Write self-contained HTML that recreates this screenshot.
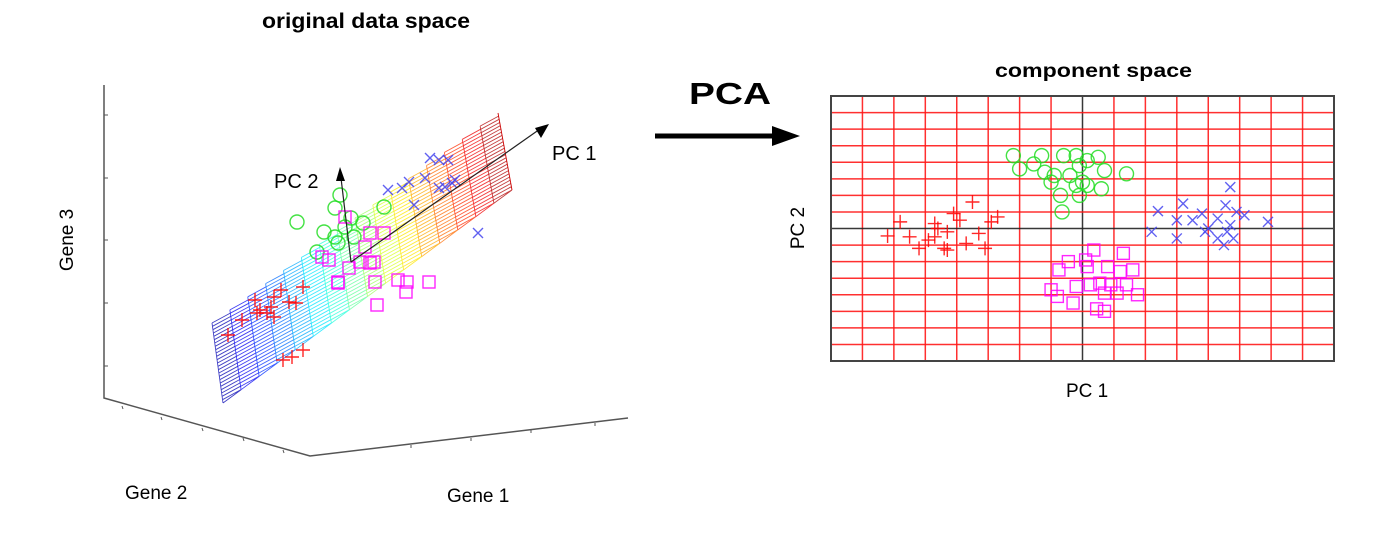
<!DOCTYPE html>
<html><head><meta charset="utf-8"><style>
html,body{margin:0;padding:0;background:#fff;}
svg{display:block;font-family:"Liberation Sans",Arial,sans-serif;}
</style></head><body>
<svg id="fig" width="1393" height="540" viewBox="0 0 1393 540">
<text x="262" y="28" font-size="21" font-weight="bold" textLength="208" lengthAdjust="spacingAndGlyphs">original data space</text>
<text x="689" y="104" font-size="31" font-weight="bold" textLength="82" lengthAdjust="spacingAndGlyphs">PCA</text>
<g>
<line x1="655" y1="136" x2="775" y2="136" stroke="#000" stroke-width="5"/>
<polygon points="772,126 800,136 772,146" fill="#000"/>
</g>
<text x="995" y="77" font-size="19" font-weight="bold" textLength="197" lengthAdjust="spacingAndGlyphs">component space</text>
<g id="left"></g>
<g id="right"></g>
<text x="552" y="160" font-size="20">PC 1</text>
<text x="274" y="188" font-size="20">PC 2</text>
<text transform="translate(73,240) rotate(-90)" text-anchor="middle" font-size="19">Gene 3</text>
<text x="125" y="499" font-size="19">Gene 2</text>
<text x="447" y="502" font-size="19">Gene 1</text>
<text transform="translate(804,228) rotate(-90)" text-anchor="middle" font-size="19">PC 2</text>
<text x="1066" y="397" font-size="19">PC 1</text>
</svg>
<script>
// ---- component space data (PC1, PC2 units) ----
const redPC1=[-6.2,-5.8,-5.5,-5.2,-4.7,-4.7,-4.4,-4.1,-4.3,-3.9,-3.7,-3.5,-3.3,-3.1,-2.9,-2.7,-4.3,-4.9,-4.6];
const redPC2=[-0.45,0.4,-0.5,-1.2,0.3,-0.5,-1.2,0.9,-0.2,0.5,-0.9,1.6,-0.3,-1.2,0.4,0.7,-1.3,-0.7,0.0];
const greenPC1=[-2.2,-2.0,-1.3,-1.2,-0.6,-0.2,-0.9,-0.4,-0.1,0.15,0.5,0.7,1.4,0.0,-0.7,-0.1,0.6,-0.65,-1.55,-1.0,-0.2,0.15];
const greenPC2=[4.4,3.6,4.4,3.4,4.4,4.4,3.2,3.2,3.8,4.1,4.3,3.5,3.3,2.8,2.0,2.0,2.4,1.0,3.9,2.8,2.6,2.6];
const magPC1=[0.36,1.3,-0.45,0.1,-0.75,0.8,1.2,1.6,-0.2,0.25,0.55,0.9,1.4,-1.0,-0.8,-0.3,0.7,1.1,1.75,0.45,0.7,0.15];
const magPC2=[-1.3,-1.5,-2.0,-1.9,-2.5,-2.3,-2.6,-2.5,-3.5,-3.4,-3.3,-3.4,-3.4,-3.7,-4.1,-4.5,-3.9,-3.9,-4.0,-4.85,-5.0,-2.3];
const bluePC1=[2.4,3.2,3.0,3.8,3.5,4.7,4.55,4.9,5.15,5.9,2.2,3.0,3.9,4.3,4.3,4.6,4.5,4.8,4.7,4.0];
const bluePC2=[1.05,1.5,0.5,0.9,0.5,2.5,1.4,1.0,0.8,0.4,-0.2,-0.6,-0.2,0.6,-0.6,-0.2,-1.0,-0.6,0.2,0.0];
const gridTicksX=[-8,-7,-6,-5,-4,-3,-2,-1,0,1,2,3,4,5,6,7,8];
const gridTicksY=[-8,-7,-6,-5,-4,-3,-2,-1,0,1,2,3,4,5,6,7,8];
// ---- original space data (projected onto PC1 / PC2 axis units) ----
const redU=[-12.3,-10.9,-9.6,-9.1,-8.4,-7.7,-7.7,-7.0,-6.2,-5.5,-4.8,-9.4,-8.0,-6.8,-5.9,-4.8];
const redV=[-7.3,-5.8,-3.8,-4.8,-5.1,-5.5,-3.5,-2.8,-4.0,-4.1,-2.5,-5.1,-4.5,-9.8,-9.5,-8.8];
const greenU=[-5.4,-1.1,-1.6,-2.7,-1.6,-3.4,-0.6,0.0,1.2,3.3,-1.3,0.3];
const greenV=[4.0,6.7,5.4,3.0,2.5,1.0,3.5,4.4,3.9,5.5,1.9,2.5];
const magU=[-0.6,1.9,3.3,-2.9,-2.2,1.4,1.9,0.9,2.3,-1.3,-1.3,2.4,4.7,5.5,5.6,7.8,2.6,-0.2];
const magV=[4.5,2.9,2.9,0.5,0.2,1.5,-0.1,0.0,0.0,-2.0,-2.1,-2.0,-1.8,-3.0,-2.0,-2.0,-4.3,-0.6];
const blueU=[7.9,8.8,9.7,3.7,5.1,5.8,7.4,9.4,10.1,10.4,6.3,12.7,8.8];
const blueV=[10.4,10.2,10.2,7.2,7.4,8.0,8.4,7.5,7.9,8.2,5.7,2.9,7.4];

const NS="http://www.w3.org/2000/svg";
function mk(tag,attrs,parent){const e=document.createElementNS(NS,tag);for(const k in attrs)e.setAttribute(k,attrs[k]);parent.appendChild(e);return e;}

// ===== right plot =====
const R=document.getElementById('right');
const L0=831,R0=1334,T0=96,B0=361;
const xs=v=>L0+(v+8)/16*(R0-L0);
const ys=v=>B0-(v+8)/16*(B0-T0);
gridTicksX.forEach(t=>{const l=mk('line',{x1:xs(t),x2:xs(t),y1:T0,y2:B0,stroke:t===0?'#222':'#ff1a1a','stroke-width':1.5,'stroke-opacity':0.9},R);

});
gridTicksY.forEach(t=>{const l=mk('line',{x1:L0,x2:R0,y1:ys(t),y2:ys(t),stroke:t===0?'#222':'#ff1a1a','stroke-width':1.5,'stroke-opacity':0.9},R);

});
const fr=mk('rect',{x:L0,y:T0,width:R0-L0,height:B0-T0,fill:'none',stroke:'#444','stroke-width':2},R);



function plus(g,x,y,s,c,w){mk('path',{d:`M${x-s},${y}H${x+s}M${x},${y-s}V${y+s}`,stroke:c,'stroke-width':w,fill:'none','stroke-opacity':0.85},g);}
function cross(g,x,y,s,c,w){mk('path',{d:`M${x-s},${y-s}L${x+s},${y+s}M${x-s},${y+s}L${x+s},${y-s}`,stroke:c,'stroke-width':w,fill:'none','stroke-opacity':0.85},g);}
function circ(g,x,y,r,c,w){mk('circle',{cx:x,cy:y,r:r,stroke:c,'stroke-width':w,fill:'none','stroke-opacity':0.85},g);}
function sq(g,x,y,s,c,w){mk('rect',{x:x-s,y:y-s,width:2*s,height:2*s,stroke:c,'stroke-width':w,fill:'none','stroke-opacity':0.85},g);}

function series(parent,name,X,Y,fx,fy,draw,size,col){const g=mk('g',{},parent);


X.forEach((v,i)=>draw(g,fx(v),fy(Y[i]),size,col,1.4));}
series(R,'red-cluster-points',redPC1,redPC2,xs,ys,plus,7,'#ff0000');
series(R,'green-cluster-points',greenPC1,greenPC2,xs,ys,circ,7,'#22dd22');
series(R,'magenta-cluster-points',magPC1,magPC2,xs,ys,sq,6,'#ff00ff');
series(R,'blue-cluster-points',bluePC1,bluePC2,xs,ys,cross,5,'#4444ee');

// ===== left 3D plot =====
const Lg=document.getElementById('left');
const ax=mk('path',{d:'M104,85V398L310,456L628,418',stroke:'#555','stroke-width':1.5,fill:'none'},Lg);


[115,178,240,303,366].forEach(y=>mk('line',{x1:104,x2:108,y1:y,y2:y,stroke:'#555'},Lg));
[[122,406],[161,417],[202,428],[243,438],[283,450]].forEach(p=>mk('line',{x1:p[0],x2:p[0]+1,y1:p[1],y2:p[1]+3,stroke:'#555'},Lg));
[[411,445],[471,438],[531,430],[595,423]].forEach(p=>mk('line',{x1:p[0],x2:p[0],y1:p[1],y2:p[1]+3,stroke:'#555'},Lg));
// plane mesh
const A=[212,323],B=[223,403],C=[498,113],D=[512,190];
function P(s,t){const top=[A[0]+s*(C[0]-A[0]),A[1]+s*(C[1]-A[1])],bot=[B[0]+s*(D[0]-B[0]),B[1]+s*(D[1]-B[1])];return [top[0]+t*(bot[0]-top[0]),top[1]+t*(bot[1]-top[1])];}
function jet(f){const r=Math.max(0,Math.min(1,1.5-Math.abs(4*f-3))),g=Math.max(0,Math.min(1,1.5-Math.abs(4*f-2))),b=Math.max(0,Math.min(1,1.5-Math.abs(4*f-1)));return `rgb(${Math.round(r*255)},${Math.round(g*255)},${Math.round(b*255)})`;}
const plane=mk('g',{'stroke-width':0.9,fill:'none'},Lg);


const NC=16,NR=24;
for(let i=0;i<NC;i++){const s0=i/NC,s1=(i+1)/NC,c=jet(0.05+0.9*(i/(NC-1)));
 let d='';for(let j=0;j<=NR;j++){const t=j/NR;const p=P(s0,t),q=P(s1,Math.min(1,t+0.04));d+=`M${p[0].toFixed(1)},${p[1].toFixed(1)}L${q[0].toFixed(1)},${q[1].toFixed(1)}`;}
 const a=P(s0,0),b=P(s0,1);d+=`M${a[0]},${a[1]}L${b[0]},${b[1]}`;
 mk('path',{d:d,stroke:c,'stroke-opacity':0.75},plane);}
const e=P(1,0),f=P(1,1);mk('line',{x1:e[0],y1:e[1],x2:f[0],y2:f[1],stroke:'#c00'},plane);
// left scatter projected via PC axes
const ox=351,oy=262;
const lx=u=>ox+u*10, ly=v=>oy-v*10;
series(Lg,'left-red-points',redU,redV,lx,ly,plus,7,'#ff0000');
series(Lg,'left-green-points',greenU,greenV,lx,ly,circ,7,'#22dd22');
series(Lg,'left-magenta-points',magU,magV,lx,ly,sq,6,'#ff00ff');
series(Lg,'left-blue-points',blueU,blueV,lx,ly,cross,5,'#4444ee');
// PC arrows
const arr=mk('g',{},Lg);


mk('line',{x1:ox,y1:oy,x2:540,y2:129,stroke:'#222','stroke-width':1.2},arr);
mk('polygon',{points:'549,124 535,128 541,138',fill:'#000'},arr);
mk('line',{x1:ox,y1:oy,x2:341,y2:178,stroke:'#222','stroke-width':1.2},arr);
mk('polygon',{points:'340,167 336,181 345,181',fill:'#000'},arr);
</script>
</body></html>
